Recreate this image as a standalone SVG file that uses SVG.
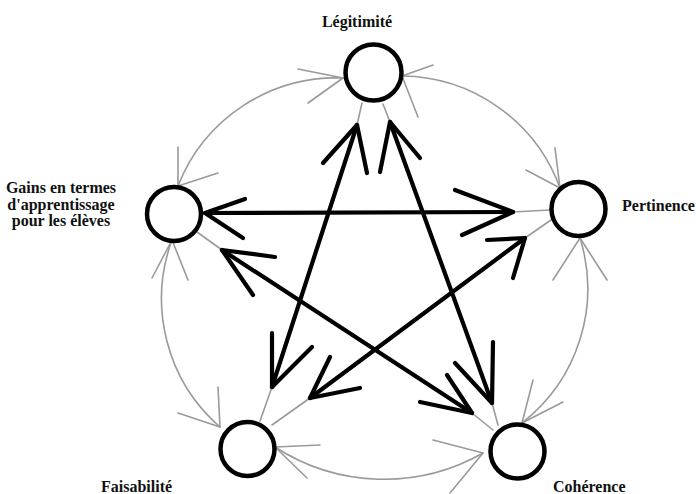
<svg xmlns="http://www.w3.org/2000/svg" width="696" height="494" viewBox="0 0 696 494">
<style>
.node{fill:#fff;stroke:#000;stroke-width:4.5}
.lbl{font-family:"Liberation Serif","Times New Roman",serif;font-weight:bold;font-size:16px;fill:#111}
.thin{fill:none;stroke:#9a9a9a;stroke-width:1.6;stroke-linecap:round;stroke-linejoin:round}
.thick{fill:none;stroke:#000;stroke-width:4.2;stroke-linecap:round;stroke-linejoin:round}
</style>
<rect width="696" height="494" fill="#fff"/>
<g id="connectors">
  <g id="outer-arcs">
    <path class="thin" d="M178,186 A170,170 0 0 1 343,78"/>
    <path class="thin" d="M402,76 A170,170 0 0 1 560,188"/>
    <path class="thin" d="M580,238 A170,170 0 0 1 522,423"/>
    <path class="thin" d="M483,453 A200,200 0 0 1 275,447"/>
    <path class="thin" d="M220,427 A170,170 0 0 1 172,240"/>
    <polyline class="thin" points="298,69 343,78 308,103"/>
    <polyline class="thin" points="178,147 178,186 218,173"/>
    <polyline class="thin" points="433,65 402,76 418,117"/>
    <polyline class="thin" points="555,148 560,188 526,170"/>
    <polyline class="thin" points="553,280 580,238 607,280"/>
    <polyline class="thin" points="533,380 522,423 563,402"/>
    <polyline class="thin" points="433,440 483,453 450,493"/>
    <polyline class="thin" points="320,445 275,447 307,478"/>
    <polyline class="thin" points="178,413 220,427 218,387"/>
    <polyline class="thin" points="152,278 172,240 188,280"/>
  </g>
  <g id="star">
    <line class="thin" x1="513" y1="212" x2="550" y2="210"/>
    <line class="thin" x1="357" y1="125" x2="362" y2="103"/>
    <line class="thin" x1="272" y1="387" x2="260" y2="421"/>
    <line class="thin" x1="390" y1="122" x2="383" y2="104"/>
    <line class="thin" x1="492" y1="403" x2="498" y2="425"/>
    <line class="thin" x1="222" y1="250" x2="197" y2="232"/>
    <line class="thin" x1="472" y1="413" x2="493" y2="430"/>
    <line class="thin" x1="525" y1="238" x2="551" y2="220"/>
    <line class="thin" x1="310" y1="398" x2="272" y2="425"/>

    <line class="thick" x1="205" y1="213" x2="513" y2="212"/>
    <line class="thick" x1="272" y1="387" x2="357" y2="125"/>
    <line class="thick" x1="390" y1="122" x2="492" y2="403"/>
    <line class="thick" x1="222" y1="250" x2="472" y2="413"/>
    <line class="thick" x1="525" y1="238" x2="310" y2="398"/>

    <polyline class="thick" points="245,199 205,213 243,238"/>
    <polyline class="thick" points="455,190 513,212 462,235"/>
    <polyline class="thick" points="323,163 357,125 367,173"/>
    <polyline class="thick" points="272,333 272,387 312,347"/>
    <polyline class="thick" points="420,158 390,122 380,172"/>
    <polyline class="thick" points="493,342 492,403 455,363"/>
    <polyline class="thick" points="275,257 222,250 253,295"/>
    <polyline class="thick" points="420,402 472,413 447,375"/>
    <polyline class="thick" points="487,240 525,238 513,278"/>
    <polyline class="thick" points="330,357 310,398 360,388"/>
  </g>
</g>
<g id="legitimite">
  <circle class="node" cx="373.5" cy="72.5" r="28"/>
  <text class="lbl" x="357" y="27" text-anchor="middle">Légitimité</text>
</g>
<g id="gains">
  <circle class="node" cx="174" cy="214" r="27"/>
  <text class="lbl" x="61" y="193" text-anchor="middle">Gains en termes</text>
  <text class="lbl" x="61" y="209.5" text-anchor="middle">d'apprentissage</text>
  <text class="lbl" x="61" y="226" text-anchor="middle">pour les élèves</text>
</g>
<g id="pertinence">
  <circle class="node" cx="578.5" cy="209" r="27"/>
  <text class="lbl" x="622" y="211">Pertinence</text>
</g>
<g id="faisabilite">
  <circle class="node" cx="247.5" cy="449" r="27"/>
  <text class="lbl" x="101" y="492">Faisabilité</text>
</g>
<g id="coherence">
  <circle class="node" cx="517.5" cy="451.5" r="27"/>
  <text class="lbl" x="553" y="492">Cohérence</text>
</g>
</svg>
